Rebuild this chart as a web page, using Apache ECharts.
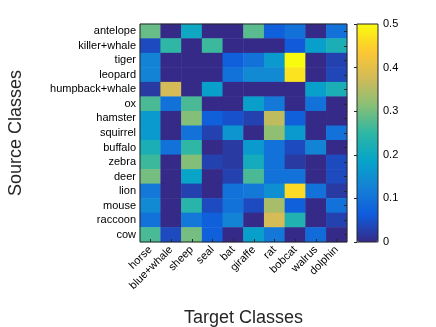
<!DOCTYPE html>
<html>
	<head>
		<meta charset="utf-8">
		<title>Source vs Target</title>
		<script src="https://cdn.jsdelivr.net/npm/echarts@6/dist/echarts.min.js"></script>
		<style>
			html, body {
				width: 100%;
				height: 100%;
				margin: 0;
				padding: 0;
				background: #fff;
			}
		</style>
	</head>
	<body>
		<div id="main" style="width: 436px;height: 327px;"></div>
		<script>
			var targetClasses = ['horse', 'blue+whale', 'sheep', 'seal', 'bat', 'giraffe', 'rat', 'bobcat', 'walrus', 'dolphin'];
			var sourceClasses = ['antelope', 'killer+whale', 'tiger', 'leopard', 'humpback+whale', 'ox', 'hamster', 'squirrel', 'buffalo', 'zebra', 'deer', 'lion', 'mouse', 'raccoon', 'cow'];
			// one row per source class, columns follow targetClasses
			var antelope      = [0.29, 0.00, 0.20, 0.00, 0.00, 0.28, 0.07, 0.10, 0.00, 0.10];
			var killerWhale   = [0.04, 0.25, 0.00, 0.26, 0.00, 0.00, 0.00, 0.06, 0.18, 0.22];
			var tiger         = [0.13, 0.00, 0.00, 0.00, 0.07, 0.10, 0.17, 0.50, 0.00, 0.03];
			var leopard       = [0.13, 0.00, 0.00, 0.00, 0.10, 0.14, 0.14, 0.47, 0.00, 0.035];
			var humpbackWhale = [0.02, 0.38, 0.00, 0.18, 0.00, 0.00, 0.00, 0.00, 0.18, 0.22];
			var ox            = [0.27, 0.10, 0.27, 0.00, 0.00, 0.18, 0.11, 0.00, 0.10, 0.00];
			var hamster       = [0.17, 0.00, 0.31, 0.07, 0.05, 0.03, 0.36, 0.07, 0.00, 0.00];
			var squirrel      = [0.17, 0.00, 0.10, 0.03, 0.16, 0.00, 0.32, 0.17, 0.00, 0.10];
			var buffalo       = [0.22, 0.10, 0.25, 0.00, 0.02, 0.17, 0.10, 0.04, 0.13, 0.00];
			var zebra         = [0.26, 0.00, 0.31, 0.03, 0.02, 0.21, 0.10, 0.02, 0.00, 0.04];
			var deer          = [0.30, 0.00, 0.19, 0.00, 0.03, 0.27, 0.10, 0.10, 0.00, 0.04];
			var lion          = [0.11, 0.00, 0.03, 0.00, 0.10, 0.11, 0.15, 0.46, 0.10, 0.02];
			var mouse         = [0.14, 0.00, 0.24, 0.04, 0.10, 0.04, 0.34, 0.07, 0.00, 0.10];
			var raccoon       = [0.10, 0.00, 0.11, 0.07, 0.13, 0.00, 0.38, 0.23, 0.00, 0.03];
			var cow           = [0.27, 0.04, 0.30, 0.07, 0.00, 0.18, 0.11, 0.00, 0.09, 0.00];
			var rows = [antelope, killerWhale, tiger, leopard, humpbackWhale, ox, hamster, squirrel, buffalo, zebra, deer, lion, mouse, raccoon, cow];
			var colorTicks = ['0', '0.1', '0.2', '0.3', '0.4', '0.5'];

			var parula = ['#352a87', '#0f5cdd', '#1481d6', '#06a4ca', '#2eb7a4', '#87bf77', '#d1bb59', '#fec832', '#f9fb0e'];
			var cells = [];
			for (var r = 0; r < rows.length; r++) {
				for (var c = 0; c < rows[r].length; c++) {
					cells.push([c, r, rows[r][c]]);
				}
			}
			var font = 'Liberation Sans';
			var chart = echarts.init(document.getElementById('main'), null, {renderer: 'canvas'});
			chart.setOption({
				animation: false,
				backgroundColor: '#fff',
				textStyle: {fontFamily: font},
				grid: [
					{left: 140, top: 24, width: 207, height: 218, outerBoundsMode: 'none', show: true, borderColor: '#262626', borderWidth: 1, backgroundColor: 'transparent', z: 5},
					{left: 357, top: 24, width: 21, height: 218, outerBoundsMode: 'none', show: true, borderColor: '#262626', borderWidth: 1, backgroundColor: 'transparent', z: 5}
				],
				xAxis: [
					{
						type: 'category', gridIndex: 0, data: targetClasses,
						name: 'Target Classes', nameLocation: 'middle', nameGap: 67,
						nameTextStyle: {fontSize: 18, color: '#262626', fontFamily: font},
						axisLine: {show: false},
						axisTick: {show: true, inside: true, alignWithLabel: true, interval: 0, length: 3, lineStyle: {color: '#262626'}},
						axisLabel: {rotate: 45, interval: 0, fontSize: 11, color: '#000', margin: 6, fontFamily: font},
						splitLine: {show: false}, z: 10
					},
					{type: 'value', gridIndex: 1, show: false, min: 0, max: 1}
				],
				yAxis: [
					{
						type: 'category', gridIndex: 0, data: sourceClasses, inverse: true,
						name: 'Source Classes', nameLocation: 'middle', nameGap: 115, nameRotate: 90,
						nameTextStyle: {fontSize: 18, color: '#262626', fontFamily: font},
						axisLine: {show: false},
						axisTick: {show: false},
						axisLabel: {interval: 0, fontSize: 11, color: '#000', margin: 4, fontFamily: font},
						splitLine: {show: false}
					},
					{
						type: 'category', gridIndex: 0, data: sourceClasses, inverse: true, position: 'right',
						axisLine: {show: false},
						axisTick: {show: true, inside: true, alignWithLabel: true, interval: 0, length: 3, lineStyle: {color: '#262626'}},
						axisLabel: {show: false},
						splitLine: {show: false}, z: 10
					},
					{
						type: 'value', gridIndex: 1, position: 'right', min: 0, max: 0.5, interval: 0.1,
						axisLine: {show: false},
						axisTick: {show: true, inside: true, length: 3, lineStyle: {color: '#262626'}},
						axisLabel: {fontSize: 11, color: '#000', margin: 5, fontFamily: font,
							formatter: function(v) { return colorTicks[Math.round(v * 10)]; }},
						splitLine: {show: false}, z: 10
					}
				],
				visualMap: [{
					type: 'continuous', seriesIndex: 0, min: 0, max: 0.5,
					calculable: false, showLabel: false, text: null,
					left: 357, top: 24, itemWidth: 21, itemHeight: 218, padding: 0,
					inRange: {color: parula}
				}],
				series: [{
					type: 'heatmap', xAxisIndex: 0, yAxisIndex: 0,
					data: cells,
					itemStyle: {borderWidth: 0},
					emphasis: {disabled: true}
				}]
			});
		</script>
	</body>
</html>
